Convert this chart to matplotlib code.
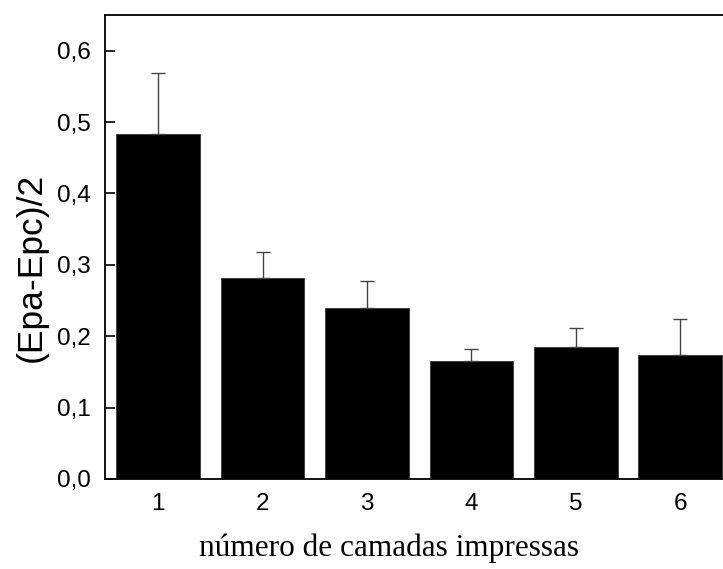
import numpy as np
import matplotlib
matplotlib.use('Agg')
import matplotlib.pyplot as plt

camadas = [1, 2, 3, 4, 5, 6]
media = [0.483, 0.281, 0.239, 0.165, 0.185, 0.174]
erro_sup = [0.569, 0.318, 0.278, 0.182, 0.211, 0.224]  # topo das barras de erro
y_ticks = [0.0, 0.1, 0.2, 0.3, 0.4, 0.5, 0.6]
y_labels = ['0,0', '0,1', '0,2', '0,3', '0,4', '0,5', '0,6']

err = np.array(erro_sup) - np.array(media)

fig = plt.figure(figsize=(7.23, 5.69), dpi=100)
ax = fig.add_axes([0.1452, 0.1582, 0.8548, 0.8154])

ax.bar(camadas, media, width=0.8, color='black', edgecolor='#333333', linewidth=0.6,
       yerr=[np.zeros(len(err)), err], error_kw=dict(ecolor='#444444', elinewidth=1.0,
                                                      capsize=5, capthick=1.0))

ax.set_xlim(0.49, 6.41)
ax.set_ylim(0, 0.65)
ax.set_yticks(y_ticks)
ax.set_yticklabels(y_labels, fontname='Liberation Sans', fontsize=17.5)
ax.set_xticks(camadas)
ax.set_xticklabels([str(c) for c in camadas], fontname='Liberation Sans', fontsize=17.5)

ax.tick_params(axis='y', direction='in', length=7.2, width=1.2, pad=10)
ax.tick_params(axis='x', length=0, pad=10)

ax.spines['right'].set_visible(False)
for s in ['left', 'top', 'bottom']:
    ax.spines[s].set_linewidth(1.3)

ax.set_ylabel('(Epa-Epc)/2', fontname='Liberation Sans', fontsize=25.5)
ax.yaxis.set_label_coords(-0.092, 0.456)
ax.set_xlabel('número de camadas impressas', fontname='Liberation Serif', fontsize=22.5)
ax.xaxis.set_label_coords(0.46, -0.118)

fig.savefig('out.png', dpi=100)
